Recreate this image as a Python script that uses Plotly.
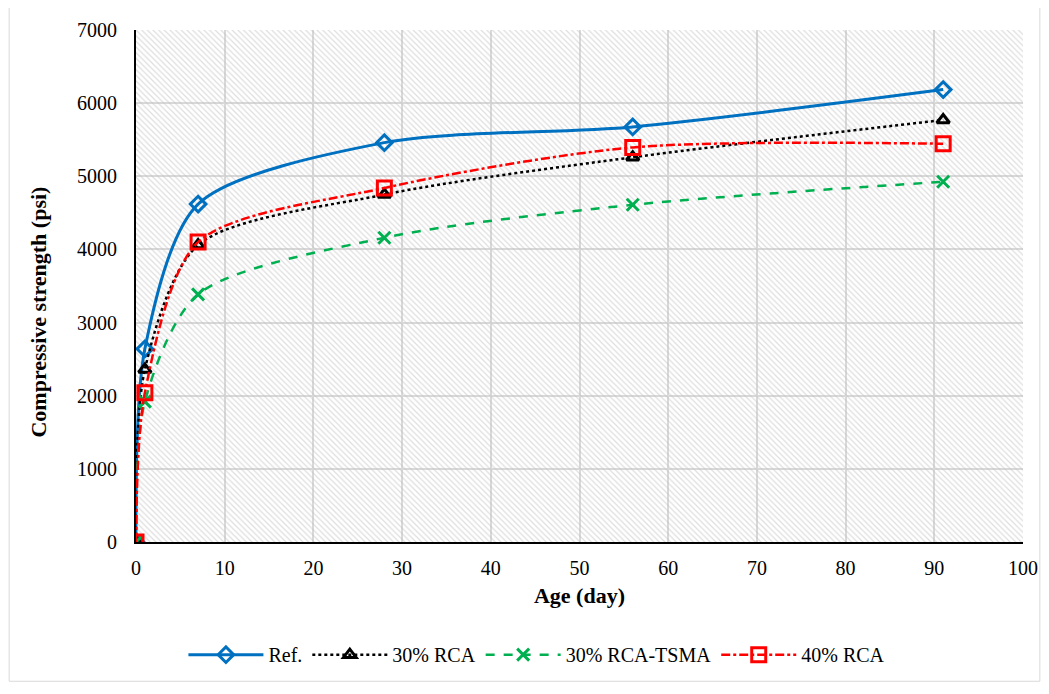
import plotly.graph_objects as go

age = [0, 1, 7, 28, 56, 91]
ref = [0, 2640, 4620, 5460, 5675, 6185]
rca30 = [0, 2360, 4060, 4750, 5260, 5770]
tsma30 = [0, 1920, 3385, 4160, 4610, 4925]
rca40 = [0, 2040, 4100, 4840, 5395, 5445]

x_range = [0, 100]
y_range = [0, 7000]

FONT = "Liberation Serif"

fig = go.Figure()

# hatched plot background
fig.add_trace(go.Scatter(
    x=[x_range[0], x_range[1], x_range[1], x_range[0], x_range[0]],
    y=[y_range[0], y_range[0], y_range[1], y_range[1], y_range[0]],
    mode="none", fill="toself", fillcolor="rgba(0,0,0,0)",
    fillpattern=dict(shape="\\", fgcolor="#bdbdbd", bgcolor="rgba(0,0,0,0)", size=4, solidity=0.3),
    hoverinfo="skip", showlegend=False))

series = [
    ("Ref.", ref, "#0070C0", "solid", "diamond-open", 12, 3),
    ("30% RCA", rca30, "#000000", "dot", "triangle-up-open", 11, 2.5),
    ("30% RCA-TSMA", tsma30, "#00B050", "dash", "x-thin-open", 12, 2.5),
    ("40% RCA", rca40, "#FF0000", "dashdot", "square-open", 14, 2.5),
]
for name, vals, col, dash, sym, size, w in series:
    fig.add_trace(go.Scatter(
        x=age, y=vals, name=name, mode="lines+markers",
        line=dict(color=col, dash=dash, width=w, shape="spline", smoothing=0.8),
        marker=dict(symbol=sym, size=size, color=col, line=dict(color=col, width=3)),
    ))

fig.update_layout(
    width=1033, height=678,
    margin=dict(l=128, r=18, t=22, b=129),
    paper_bgcolor="white", plot_bgcolor="white",
    font=dict(family=FONT, size=20, color="black"),
    showlegend=True,
    legend=dict(orientation="h", x=0.452, xanchor="center", y=-0.22, yanchor="middle",
                font=dict(family=FONT, size=20), itemwidth=75, tracegroupgap=0),
    xaxis=dict(range=x_range, dtick=10, showgrid=True, gridcolor="#d9d9d9", gridwidth=1.5,
               showline=True, linecolor="black", linewidth=2, zeroline=False, automargin=False,
               ticks="", ticklabelstandoff=7, tickfont=dict(family=FONT, size=20),
               title=dict(text="<b>Age (day)</b>", font=dict(family=FONT, size=22), standoff=10)),
    yaxis=dict(range=y_range, dtick=1000, showgrid=True, gridcolor="#d9d9d9", gridwidth=1.5,
               showline=True, linecolor="black", linewidth=2, zeroline=False, automargin=False,
               ticks="", ticklabelstandoff=13, tickfont=dict(family=FONT, size=20)),
    annotations=[dict(text="<b>Compressive strength (psi)</b>", textangle=-90,
                      xref="paper", yref="paper", x=-0.110, y=0.449,
                      xanchor="center", yanchor="middle", showarrow=False,
                      font=dict(family=FONT, size=22))],
    shapes=[dict(type="rect", xref="paper", yref="paper",
                 x0=-0.143, x1=1.019, y0=-0.272, y1=1.05,
                 line=dict(color="#d9d9d9", width=1), layer="below")],
)

fig.write_html("out.html")
